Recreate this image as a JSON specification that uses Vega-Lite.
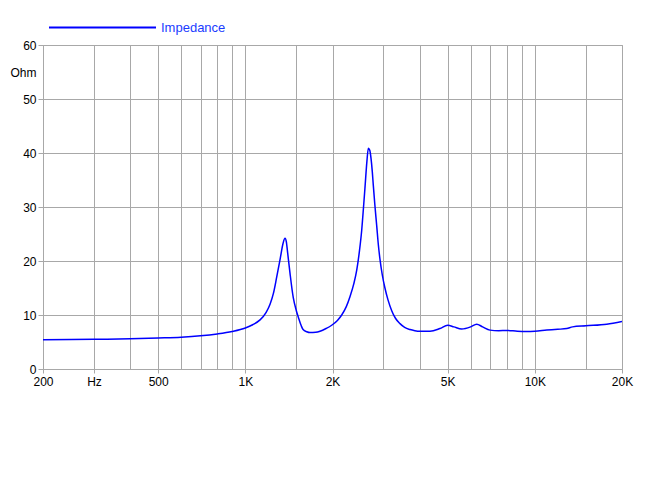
{
  "$schema": "https://vega.github.io/schema/vega-lite/v6.json",
  "width": 579,
  "height": 324,
  "autosize": "none",
  "padding": {"left": 43, "top": 45, "right": 28, "bottom": 131},
  "background": "white",
  "config": {
    "view": {"stroke": "#a8a8a8", "strokeWidth": 1},
    "font": "Liberation Sans"
  },
  "data": {
    "values": [
      {"f": 200, "z": 5.4}, {"f": 250, "z": 5.45}, {"f": 300, "z": 5.5}, {"f": 400, "z": 5.6},
      {"f": 500, "z": 5.75}, {"f": 600, "z": 5.9}, {"f": 700, "z": 6.15}, {"f": 800, "z": 6.5},
      {"f": 900, "z": 6.95}, {"f": 1000, "z": 7.6}, {"f": 1060, "z": 8.2}, {"f": 1124, "z": 9.1},
      {"f": 1180, "z": 10.5}, {"f": 1217, "z": 12.0}, {"f": 1250, "z": 14.0}, {"f": 1283, "z": 17.0},
      {"f": 1320, "z": 20.5}, {"f": 1350, "z": 23.3}, {"f": 1371, "z": 24.2}, {"f": 1385, "z": 23.6},
      {"f": 1400, "z": 21.5}, {"f": 1426, "z": 17.8}, {"f": 1464, "z": 13.2}, {"f": 1500, "z": 10.8},
      {"f": 1524, "z": 9.6}, {"f": 1560, "z": 8.0}, {"f": 1583, "z": 7.3}, {"f": 1630, "z": 6.9},
      {"f": 1672, "z": 6.75}, {"f": 1750, "z": 6.8}, {"f": 1811, "z": 7.0}, {"f": 1900, "z": 7.5},
      {"f": 1987, "z": 8.1}, {"f": 2080, "z": 9.0}, {"f": 2152, "z": 10.0}, {"f": 2230, "z": 11.5},
      {"f": 2298, "z": 13.4}, {"f": 2370, "z": 15.8}, {"f": 2425, "z": 18.3}, {"f": 2480, "z": 22.0},
      {"f": 2523, "z": 25.7}, {"f": 2560, "z": 30.0}, {"f": 2589, "z": 33.5}, {"f": 2630, "z": 38.5},
      {"f": 2660, "z": 40.9}, {"f": 2690, "z": 40.5}, {"f": 2717, "z": 39.0}, {"f": 2745, "z": 36.5},
      {"f": 2767, "z": 34.0}, {"f": 2800, "z": 30.5}, {"f": 2843, "z": 26.5}, {"f": 2880, "z": 23.0},
      {"f": 2918, "z": 20.3}, {"f": 2970, "z": 17.5}, {"f": 3035, "z": 15.0}, {"f": 3110, "z": 12.8},
      {"f": 3203, "z": 10.8}, {"f": 3300, "z": 9.4}, {"f": 3421, "z": 8.4}, {"f": 3550, "z": 7.7},
      {"f": 3706, "z": 7.3}, {"f": 3850, "z": 7.1}, {"f": 4000, "z": 7.0}, {"f": 4343, "z": 7.0},
      {"f": 4700, "z": 7.5}, {"f": 5000, "z": 8.1}, {"f": 5250, "z": 7.8}, {"f": 5587, "z": 7.4},
      {"f": 6000, "z": 7.8}, {"f": 6298, "z": 8.3}, {"f": 6600, "z": 7.8}, {"f": 7000, "z": 7.2},
      {"f": 7500, "z": 7.1}, {"f": 8000, "z": 7.15}, {"f": 8700, "z": 7.0}, {"f": 9372, "z": 6.95},
      {"f": 10000, "z": 7.0}, {"f": 10995, "z": 7.2}, {"f": 12000, "z": 7.35}, {"f": 12888, "z": 7.5},
      {"f": 13500, "z": 7.8}, {"f": 15000, "z": 8.0}, {"f": 17712, "z": 8.3}, {"f": 20000, "z": 8.8}
    ]
  },
  "mark": {"type": "line", "interpolate": "monotone", "strokeWidth": 1.5, "clip": true},
  "encoding": {
    "x": {
      "field": "f",
      "type": "quantitative",
      "scale": {"type": "log", "domain": [200, 20000], "nice": false},
      "axis": {
        "title": null,
        "values": [200, 300, 400, 500, 600, 700, 800, 900, 1000, 1500, 2000, 3000, 4000, 5000, 6000, 7000, 8000, 9000, 10000, 15000, 20000],
        "labelExpr": "datum.value == 200 ? '200' : datum.value == 300 ? 'Hz' : datum.value == 500 ? '500' : datum.value == 1000 ? '1K' : datum.value == 2000 ? '2K' : datum.value == 5000 ? '5K' : datum.value == 10000 ? '10K' : datum.value == 20000 ? '20K' : ''",
        "labelOverlap": false,
        "labelFlush": false,
        "labelFont": "Liberation Sans",
        "labelFontSize": 12,
        "labelColor": "#000000",
        "labelPadding": 3,
        "grid": true,
        "gridColor": "#a8a8a8",
        "gridOpacity": 1,
        "domainColor": "#a8a8a8",
        "tickColor": "#a8a8a8",
        "tickSize": 4,
        "tickOpacity": {"condition": {"test": "datum.value == 200 || datum.value == 300 || datum.value == 500 || datum.value == 1000 || datum.value == 2000 || datum.value == 5000 || datum.value == 10000 || datum.value == 20000", "value": 1}, "value": 0}
      }
    },
    "y": {
      "field": "z",
      "type": "quantitative",
      "scale": {"domain": [0, 60], "nice": false, "zero": true},
      "axis": {
        "title": null,
        "values": [0, 10, 20, 30, 40, 50, 55, 60],
        "labelExpr": "datum.value == 55 ? 'Ohm' : datum.label",
        "labelOverlap": false,
        "labelFont": "Liberation Sans",
        "labelFontSize": 12,
        "labelColor": "#000000",
        "labelPadding": 2,
        "grid": true,
        "gridColor": "#a8a8a8",
        "gridOpacity": {"condition": {"test": "datum.value == 55", "value": 0}, "value": 1},
        "domainColor": "#a8a8a8",
        "tickColor": "#a8a8a8",
        "tickSize": 5,
        "tickOpacity": {"condition": {"test": "datum.value == 55", "value": 0}, "value": 1}
      }
    },
    "color": {
      "datum": "Impedance",
      "type": "nominal",
      "scale": {"range": ["#0000ff"]},
      "legend": {
        "title": null,
        "orient": "none",
        "legendX": 5,
        "legendY": -72,
        "symbolType": "M-1,0H1",
        "symbolSize": 11449,
        "symbolStrokeWidth": 2,
        "symbolStrokeColor": "#1040f0",
        "labelColor": "#1a3cff",
        "labelFont": "Liberation Sans",
        "labelFontSize": 13,
        "labelOffset": 4,
        "padding": 0
      }
    }
  }
}
